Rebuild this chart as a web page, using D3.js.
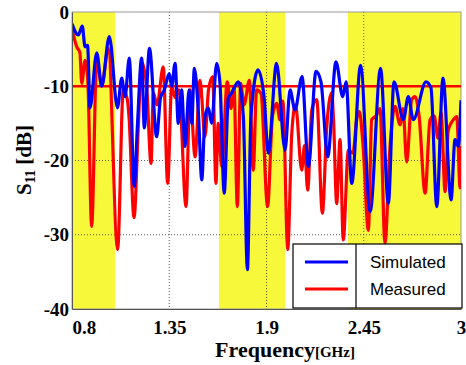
<!DOCTYPE html>
<html>
<head>
<meta charset="utf-8">
<script src="https://cdn.jsdelivr.net/npm/d3@7"></script>
<style>
  body { margin: 0; background: #fff; }
  svg { display: block; }
  .tick text { font-family: "Liberation Serif", "Times New Roman", serif; font-weight: bold; font-size: 19px; }
</style>
</head>
<body>
<svg id="chart" width="466" height="365"></svg>
<script>
// x tick values (GHz) and y tick values (dB)
const xTicks = [0.8, 1.35, 1.9, 2.45, 3];
const yTicks = [0, -10, -20, -30, -40];

// highlighted frequency bands
const bandStart = [0.8, 1.631, 2.361];
const bandEnd = [1.043, 2.005, 3.0];

// Simulated S11
const simFreq = [0.800, 0.836, 0.858, 0.874, 0.888, 0.902, 0.940, 0.968, 1.011, 1.057, 1.081, 1.100, 1.124, 1.152,
  1.170, 1.194, 1.209, 1.238, 1.279, 1.301, 1.322, 1.350, 1.364, 1.383, 1.401, 1.420, 1.439, 1.462, 1.477, 1.492,
  1.514, 1.534, 1.552, 1.571, 1.590, 1.618, 1.637, 1.661, 1.684, 1.703, 1.741, 1.769, 1.792, 1.812, 1.852, 1.886,
  1.910, 1.957, 2.005, 2.033, 2.061, 2.101, 2.137, 2.180, 2.208, 2.246, 2.293, 2.331, 2.350, 2.382, 2.432, 2.486,
  2.545, 2.589, 2.621, 2.674, 2.702, 2.730, 2.802, 2.830, 2.863, 2.898, 2.944, 2.966, 2.985, 3.000];
const simDb = [-1.6, -3.1, -1.9, -4.7, -4.5, -12.9, -5.5, -10, -3.3, -12.9, -8.9, -11.4, -6.2, -23.5,
  -15.3, -6.2, -15.6, -4.9, -16.8, -11.5, -10.5, -8.3, -10, -6.9, -15, -10.5, -18.1, -10.5, -15, -7.6,
  -13.2, -22.6, -14.1, -12.9, -15, -6.9, -9.6, -24.4, -11.6, -10.9, -9.4, -14.1, -34.7, -14.1, -7.8, -11.4,
  -19, -6.9, -18.6, -10.5, -13.2, -8.7, -20.8, -8, -9.4, -19.5, -6.7, -11.4, -9.4, -23.1, -7.2, -26.9,
  -7.6, -25.8, -9.4, -14.5, -11.4, -14.5, -9.4, -10.2, -26.2, -8.9, -25.3, -17.2, -18.1, -11.9];

// Measured S11
const measFreq = [0.800, 0.827, 0.845, 0.855, 0.874, 0.890, 0.911, 0.940, 0.968, 1.005, 1.058, 1.090, 1.113, 1.122,
  1.151, 1.175, 1.194, 1.222, 1.247, 1.260, 1.281, 1.316, 1.341, 1.364, 1.383, 1.405, 1.445, 1.467, 1.496, 1.524,
  1.552, 1.572, 1.596, 1.614, 1.627, 1.647, 1.678, 1.699, 1.716, 1.735, 1.754, 1.773, 1.803, 1.825, 1.844, 1.869,
  1.906, 1.934, 1.958, 1.976, 1.993, 2.020, 2.043, 2.064, 2.099, 2.115, 2.133, 2.156, 2.184, 2.216, 2.241, 2.269,
  2.279, 2.297, 2.316, 2.334, 2.363, 2.389, 2.410, 2.425, 2.446, 2.476, 2.495, 2.519, 2.542, 2.570, 2.599, 2.627,
  2.655, 2.672, 2.693, 2.721, 2.740, 2.763, 2.797, 2.825, 2.848, 2.870, 2.887, 2.910, 2.928, 2.957, 2.976, 2.995, 3.000];
const measDb = [-2.3, -4.7, -5.5, -9.6, -6.5, -9.5, -28.9, -6.5, -9.9, -4.9, -32, -10.5, -11.8, -14,
  -27.7, -15.4, -6.7, -10, -20.4, -10.9, -12.5, -7.4, -23.1, -10, -11.5, -10.5, -26.2, -10.5, -19.5, -9.2,
  -16.8, -10.5, -8.7, -23.1, -15, -20.8, -9.4, -13, -10, -26.2, -9.6, -12.5, -9.2, -21.3, -10.5, -11,
  -26.2, -14, -12.3, -14.5, -12, -32, -16.3, -12.5, -21.3, -18, -24, -13.2, -11.8, -27.1, -15.4, -10.9,
  -14.5, -25.8, -17.2, -30.7, -18.6, -19, -14.5, -13.4, -18, -29.4, -14.5, -14, -13, -31.1, -18, -12.7,
  -15.2, -13, -20.2, -11.8, -11.4, -14, -24.4, -14.5, -14, -17, -13.5, -24.2, -15.9, -14.5, -14.1, -23.7, -18];

const refLevel = -10;
const seriesNames = ["Simulated", "Measured"];
const seriesColors = ["#0000ff", "#ff0000"];

const margin = { top: 12, right: 5, bottom: 56, left: 72 };
const width = 466, height = 365;
const iw = width - margin.left - margin.right;
const ih = height - margin.top - margin.bottom;

const svg = d3.select("#chart");
const g = svg.append("g").attr("transform", `translate(${margin.left},${margin.top})`);

const x = d3.scaleLinear().domain([0.8, 3]).range([0, iw]);
const y = d3.scaleLinear().domain([-40, 0]).range([ih, 0]);

svg.append("defs").append("clipPath").attr("id", "clip")
  .append("rect").attr("width", iw).attr("height", ih);

// yellow bands
g.selectAll(".band").data(d3.range(bandStart.length)).enter().append("rect")
  .attr("x", i => x(bandStart[i]))
  .attr("width", i => x(bandEnd[i]) - x(bandStart[i]))
  .attr("y", 0).attr("height", ih)
  .attr("fill", "#f8f83a");

// dotted grid
g.selectAll(".gx").data(xTicks.slice(1, -1)).enter().append("line")
  .attr("x1", d => x(d)).attr("x2", d => x(d)).attr("y1", 0).attr("y2", ih)
  .attr("stroke", "#333").attr("stroke-width", 0.8).attr("stroke-dasharray", "1,2");
g.selectAll(".gy").data(yTicks.slice(1, -1)).enter().append("line")
  .attr("x1", 0).attr("x2", iw).attr("y1", d => y(d)).attr("y2", d => y(d))
  .attr("stroke", "#333").attr("stroke-width", 0.8).attr("stroke-dasharray", "1,2");

// frame
g.append("rect").attr("width", iw).attr("height", ih)
  .attr("fill", "none").attr("stroke", "#999").attr("stroke-width", 1);

const line = d3.line()
  .x(d => x(d[0]))
  .y(d => y(d[1]))
  .curve(d3.curveMonotoneX);

const plot = g.append("g").attr("clip-path", "url(#clip)");

// -10 dB reference
plot.append("line")
  .attr("x1", 0).attr("x2", iw).attr("y1", y(refLevel)).attr("y2", y(refLevel))
  .attr("stroke", "#ff0000").attr("stroke-width", 2.5);

plot.append("path")
  .datum(d3.zip(measFreq, measDb))
  .attr("d", line).attr("fill", "none")
  .attr("stroke", seriesColors[1]).attr("stroke-width", 3.2).attr("stroke-linejoin", "round");

plot.append("path")
  .datum(d3.zip(simFreq, simDb))
  .attr("d", line).attr("fill", "none")
  .attr("stroke", seriesColors[0]).attr("stroke-width", 3.2).attr("stroke-linejoin", "round");

// axes (plain hyphen minus like the original)
const fmt = d => String(d);

const xAxis = g.append("g").attr("transform", `translate(0,${ih})`)
  .call(d3.axisBottom(x).tickValues(xTicks).tickSize(0).tickPadding(12).tickFormat(fmt));
xAxis.select(".domain").attr("stroke", "#555");
xAxis.selectAll(".tick text").attr("fill", "#000")
  .attr("text-anchor", (d, i) => i === 0 ? "start" : "middle");

const yAxis = g.append("g")
  .call(d3.axisLeft(y).tickValues(yTicks).tickSize(0).tickPadding(3).tickFormat(fmt));
yAxis.select(".domain").attr("stroke", "#555");
yAxis.selectAll(".tick text").attr("fill", "#000");

// axis titles
const xt = svg.append("text")
  .attr("x", 285).attr("y", 357)
  .attr("text-anchor", "middle")
  .attr("font-family", "Liberation Serif, Times New Roman, serif")
  .attr("font-weight", "bold");
xt.append("tspan").attr("font-size", 22).text("Frequency");
xt.append("tspan").attr("font-size", 15).text("[GHz]");

const yt = svg.append("text")
  .attr("transform", "translate(31,160) rotate(-90)")
  .attr("text-anchor", "middle")
  .attr("font-family", "Liberation Serif, Times New Roman, serif")
  .attr("font-weight", "bold")
  .attr("font-size", 21);
yt.append("tspan").text("S");
yt.append("tspan").attr("font-size", 14).attr("dy", 4).text("11");
yt.append("tspan").attr("dy", -4).text(" [dB]");

// legend
const lg = svg.append("g").attr("transform", "translate(293,244)");
lg.append("rect").attr("width", 169).attr("height", 64)
  .attr("fill", "#fff").attr("stroke", "#000").attr("stroke-width", 1.2);
lg.append("line").attr("x1", 63).attr("x2", 63).attr("y1", 0).attr("y2", 64)
  .attr("stroke", "#000").attr("stroke-width", 1.2);
seriesNames.forEach((name, i) => {
  const yy = 18 + i * 27;
  lg.append("line").attr("x1", 12).attr("x2", 55).attr("y1", yy).attr("y2", yy)
    .attr("stroke", seriesColors[i]).attr("stroke-width", 3);
  lg.append("text").attr("x", 77).attr("y", yy + 6)
    .attr("font-family", "Liberation Sans, Arial, sans-serif")
    .attr("font-size", 17).text(name);
});
</script>
</body>
</html>
